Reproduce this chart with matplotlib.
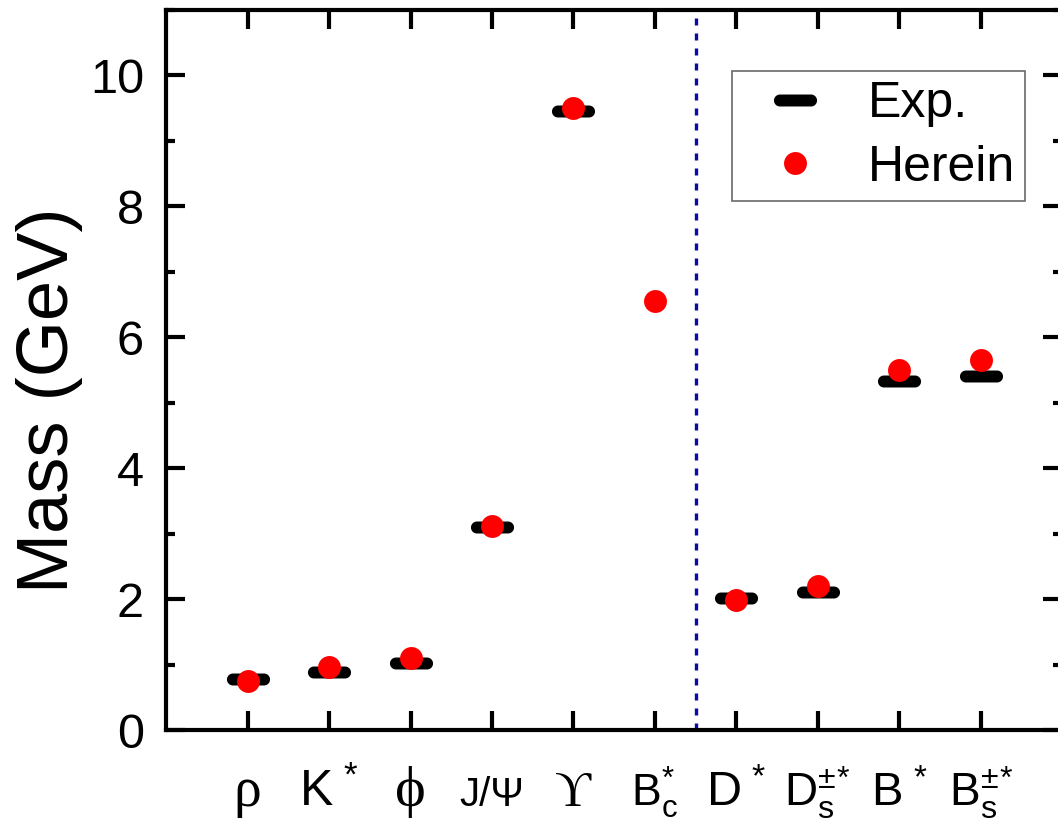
import matplotlib
matplotlib.use("Agg")
import matplotlib.pyplot as plt
import numpy as np
from matplotlib.lines import Line2D
from matplotlib.path import Path
from matplotlib.ticker import MultipleLocator

plt.rcParams["font.family"] = ["Liberation Sans", "DejaVu Sans"]
plt.rcParams["mathtext.fontset"] = "custom"
plt.rcParams["mathtext.rm"] = "Liberation Sans"
plt.rcParams["mathtext.it"] = "Liberation Sans"
plt.rcParams["mathtext.bf"] = "Liberation Sans:bold"

# meson labels and masses (GeV)
labels = ["ρ", r"$\mathrm{K}^{\,*}$", "ϕ", "J/Ψ", "ϒ", r"$\mathrm{B}_\mathrm{c}^{*}$",
          r"$\mathrm{D}^{\,*}$", r"${\mathrm{D}_\mathrm{s}^{\pm}}^{*}$",
          r"$\mathrm{B}^{\,*}$", r"${\mathrm{B}_\mathrm{s}^{\pm}}^{*}$"]
label_sizes = [40, 36, 42, 29, 36, 32, 35, 33, 34, 33]
serif_labels = [0, 2, 4]
exp_mass = [0.775, 0.892, 1.019, 3.097, 9.460, np.nan, 2.010, 2.112, 5.325, 5.415]
herein_mass = [0.75, 0.96, 1.10, 3.12, 9.50, 6.55, 1.99, 2.20, 5.50, 5.65]
divider = 6.5


def stadium(aspect=3.6, n=24):
    a = (aspect - 1) / 2
    t1 = np.linspace(-np.pi / 2, np.pi / 2, n)
    t2 = np.linspace(np.pi / 2, 3 * np.pi / 2, n)
    xs = np.concatenate([a + 0.5 * np.cos(t1), -a + 0.5 * np.cos(t2)])
    ys = np.concatenate([0.5 * np.sin(t1), 0.5 * np.sin(t2)])
    verts = np.column_stack([xs, ys])
    verts = np.vstack([verts, verts[:1]])
    return Path(verts, closed=True)


bar_marker = stadium()
x = np.arange(1, len(labels) + 1)

fig = plt.figure(figsize=(10.58, 8.24), dpi=100)
ax = fig.add_axes([0.157, 0.114, 0.847, 0.874])

ax.plot(x, exp_mass, linestyle="none", marker=bar_marker, markersize=31,
        color="black", markeredgewidth=0, zorder=3)
ax.plot(x, herein_mass, "o", color="#ff0000", markersize=16.5,
        markeredgewidth=0, zorder=4)
ax.axvline(divider, color="#0a0aa8", linewidth=2.4, dashes=(2.1, 2.4), zorder=2)

ax.set_xlim(0, 11)
ax.set_ylim(0, 11)
ax.set_xticks(x)
ax.set_xticklabels(labels)
for i, lab in enumerate(ax.get_xticklabels()):
    lab.set_fontsize(label_sizes[i])
    lab.set_va("baseline")
    if i in serif_labels:
        lab.set_family(["Liberation Serif", "DejaVu Serif"])
ax.yaxis.set_major_locator(MultipleLocator(2))
ax.yaxis.set_minor_locator(MultipleLocator(1))
ax.tick_params(axis="both", which="major", direction="in", length=14,
               width=3, top=True, right=True)
ax.tick_params(axis="y", which="minor", direction="in", length=6.5,
               width=3, right=True)
ax.tick_params(axis="y", labelsize=35, pad=16)
ax.tick_params(axis="x", pad=55)
for sp in ax.spines.values():
    sp.set_linewidth(3)

ax.set_ylabel("Mass (GeV)", fontsize=52)
ax.yaxis.set_label_coords(-0.093, 0.458)

handles = [
    Line2D([0], [0], linestyle="none", marker=bar_marker, markersize=31,
           color="black", markeredgewidth=0),
    Line2D([0], [0], marker="o", linestyle="none", color="#ff0000",
           markersize=16.5, markeredgewidth=0),
]
leg = ax.legend(handles, ["Exp.", "Herein"], loc="upper left",
                bbox_to_anchor=(0.632, 0.915), fontsize=36, frameon=True,
                fancybox=False, edgecolor="#444444", handlelength=2.1,
                handletextpad=0.4, borderpad=0.2, labelspacing=0.35,
                borderaxespad=0)
leg.get_frame().set_linewidth(1.2)

fig.savefig("out.png", dpi=100)
